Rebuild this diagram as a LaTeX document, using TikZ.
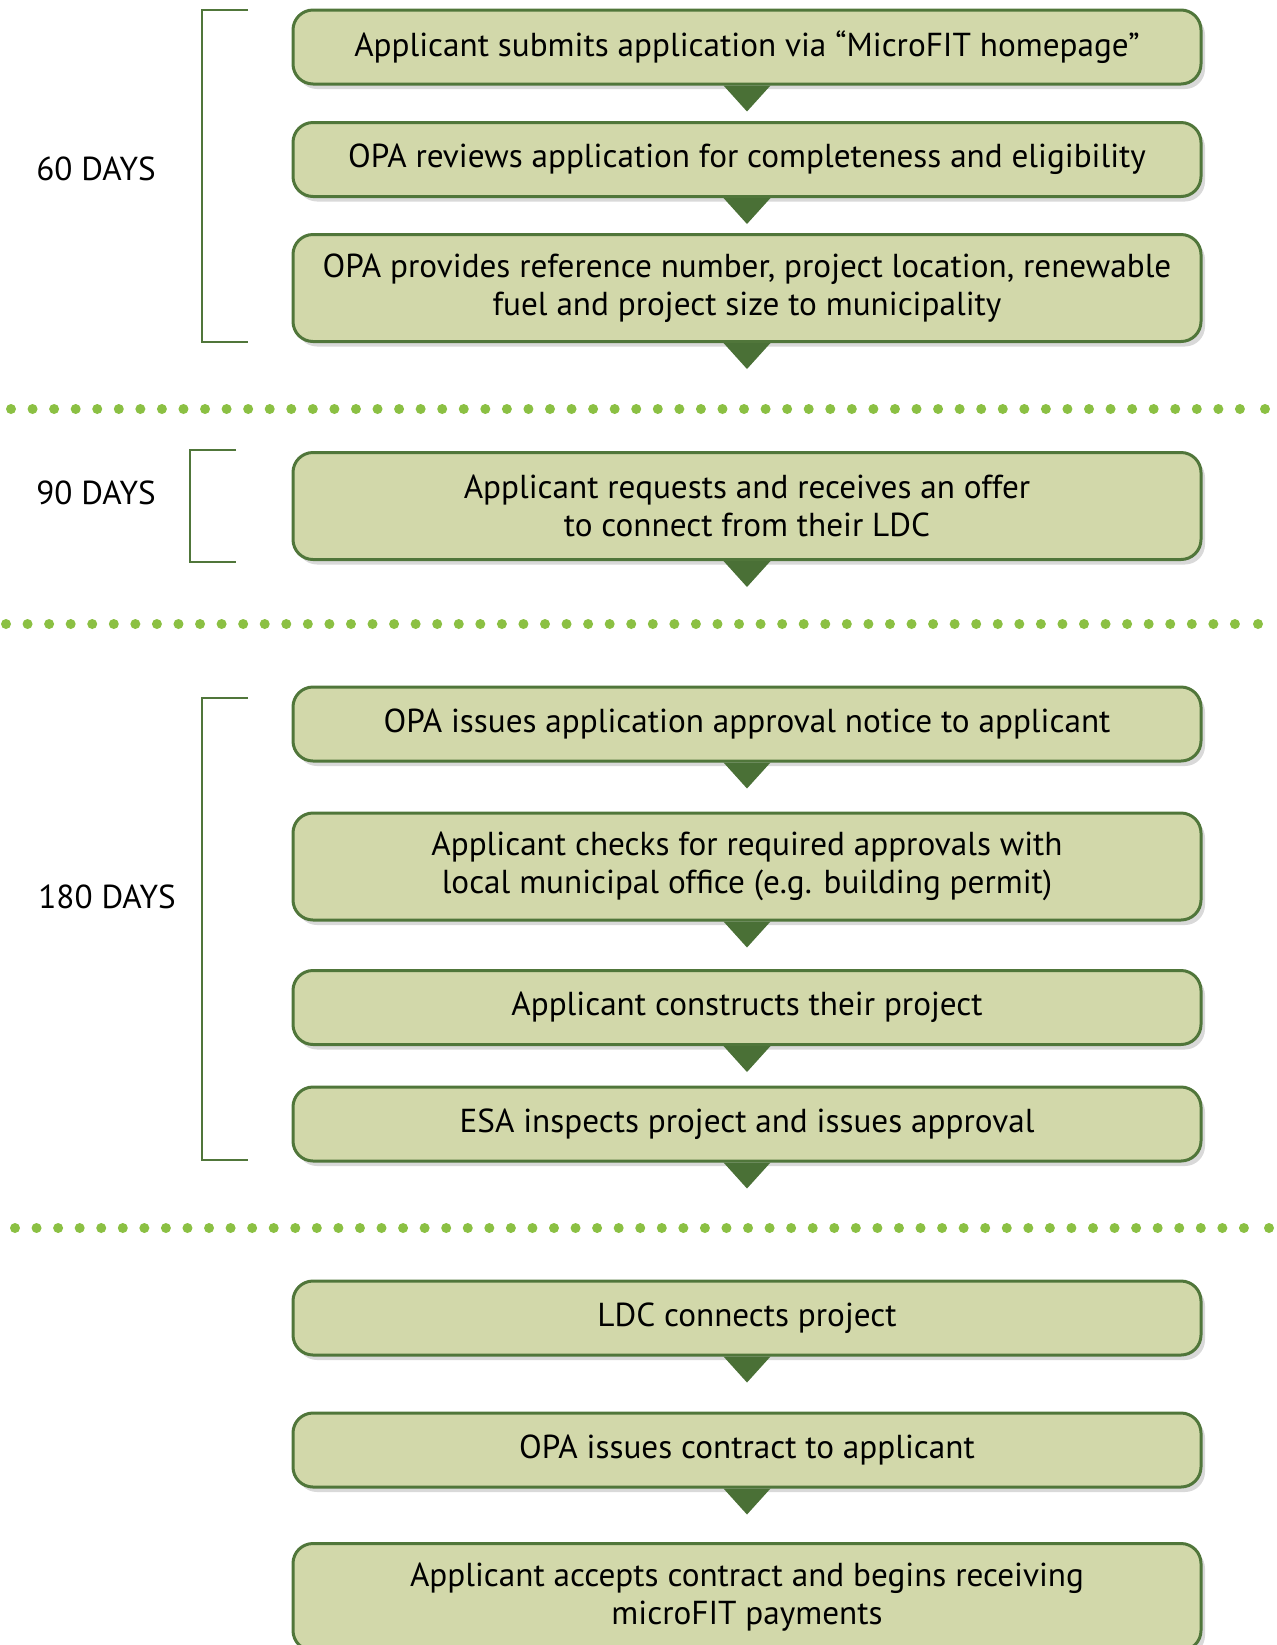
\documentclass[tikz,border=0pt]{standalone}
\usepackage{fontspec}
\setmainfont{PT Sans}
\usetikzlibrary{shadows}

\definecolor{boxfill}{RGB}{210,216,170}
\definecolor{boxline}{RGB}{80,118,58}
\definecolor{tipgreen}{RGB}{74,112,54}
\definecolor{dotgreen}{RGB}{139,192,67}

\tikzset{
  stepbox/.style={draw=boxline, fill=boxfill, line width=1.5pt, rounded corners=10pt,
    minimum width=454pt, minimum height=37pt, align=center, inner sep=0pt,
    font=\fontsize{16.6}{19}\selectfont,
    drop shadow={opacity=0.3, shadow xshift=2pt, shadow yshift=-2.5pt}},
  tallbox/.style={stepbox, minimum height=53.5pt},
  daylabel/.style={anchor=west, inner sep=0pt, font=\fontsize{16.6}{19}\selectfont},
  daysline/.style={draw=boxline, line width=1pt},
  dotline/.style={dotgreen, line width=5pt, line cap=round, dash pattern=on 0pt off 10.78pt},
  enddot/.style={fill=dotgreen}
}

\begin{document}
\begin{tikzpicture}[x=0.5pt, y=-0.5pt]
    \useasboundingbox (0,0) rectangle (1276,1645);

    \node[stepbox] (submit) at (747,47) {Applicant submits application via “MicroFIT homepage”};
    \node[stepbox] (review) at (747,159.5) {OPA reviews application for completeness and eligibility};
    \node[tallbox] (refnum) at (747,288) {OPA provides reference number, project location, renewable\\fuel and project size to municipality};

    \node[tallbox] (offer) at (747,506) {Applicant requests and receives an offer\\to connect from their LDC};

    \node[stepbox] (notice) at (747,724) {OPA issues application approval notice to applicant};
    \node[tallbox] (permits) at (747,866.5) {Applicant checks for required approvals with\\local municipal office (e.g. building permit)};
    \node[stepbox] (build) at (747,1007.5) {Applicant constructs their project};
    \node[stepbox] (inspect) at (747,1124) {ESA inspects project and issues approval};

    \node[stepbox] (connect) at (747,1318) {LDC connects project};
    \node[stepbox] (contract) at (747,1450) {OPA issues contract to applicant};
    \node[tallbox] (accept) at (747,1597) {Applicant accepts contract and begins receiving\\microFIT payments};

    \foreach \n in {submit,review,refnum,offer,notice,permits,build,inspect,connect,contract}
        \fill[tipgreen] (\n.south) ++(-23.5,0) -- ++(47,0) -- ++(-23.5,26) -- cycle;

    \node[daylabel] (d60) at (36,169) {60 DAYS};
    \draw[daysline] (248,10) -- (202,10) -- (202,342) -- (248,342);

    \node[daylabel] (d90) at (36,493) {90 DAYS};
    \draw[daysline] (236,450) -- (190,450) -- (190,562) -- (236,562);

    \node[daylabel] (d180) at (38,897) {180 DAYS};
    \draw[daysline] (248,698) -- (202,698) -- (202,1160) -- (248,1160);

    \draw[dotline] (11,409) -- (1241,409);
    \fill[enddot] (1265,409) circle (2.5pt);
    \draw[dotline] (6,624) -- (1236,624);
    \fill[enddot] (1258,624) circle (2.5pt);
    \draw[dotline] (15,1228) -- (1245,1228);
    \fill[enddot] (1269,1228) circle (2.5pt);
\end{tikzpicture}
\end{document}
